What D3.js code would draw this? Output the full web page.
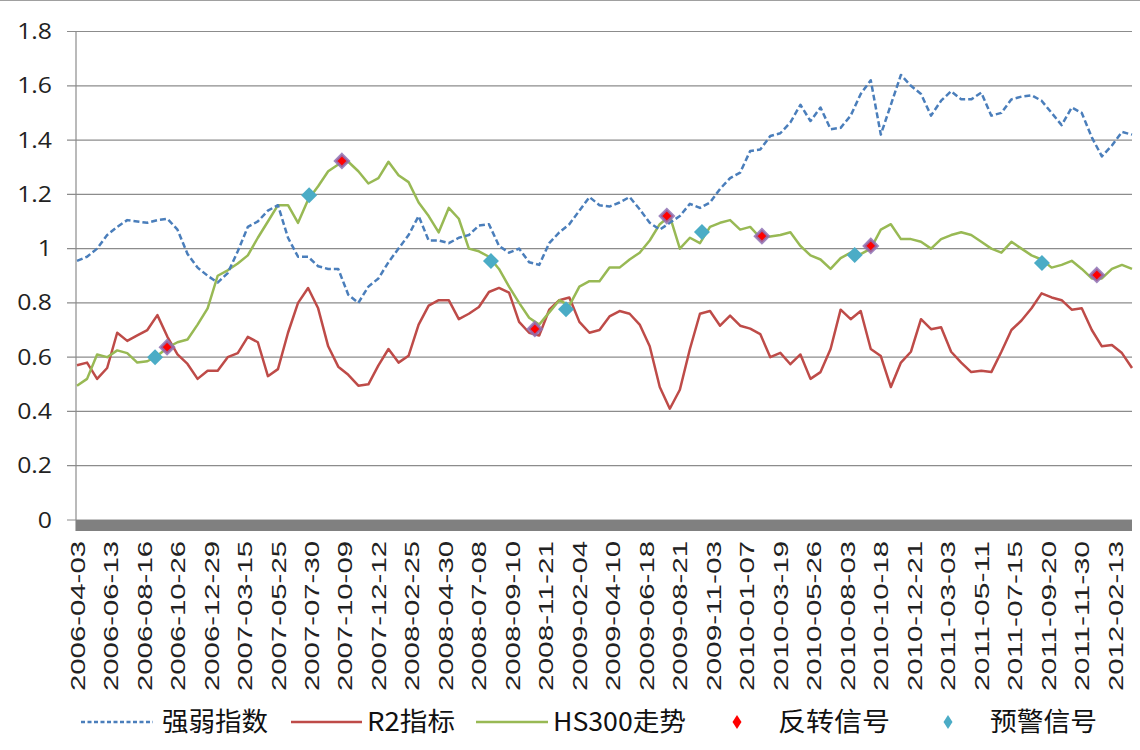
<!DOCTYPE html>
<html><head><meta charset="utf-8">
<script src="https://cdn.jsdelivr.net/npm/d3@7"></script>
<style>html,body{margin:0;padding:0;background:#fff;}svg{display:block;}</style>
</head><body>
<svg id="c" width="1140" height="750"></svg>
<script>
// ---------- data ----------
const dateLabels = ["2006-04-03","2006-06-13","2006-08-16","2006-10-26","2006-12-29","2007-03-15","2007-05-25","2007-07-30","2007-10-09","2007-12-12","2008-02-25","2008-04-30","2008-07-08","2008-09-10","2008-11-21","2009-02-04","2009-04-10","2009-06-18","2009-08-21","2009-11-03","2010-01-07","2010-03-19","2010-05-26","2010-08-03","2010-10-18","2010-12-21","2011-03-03","2011-05-11","2011-07-15","2011-09-20","2011-11-30","2012-02-13"];
const yTicks = [0,0.2,0.4,0.6,0.8,1,1.2,1.4,1.6,1.8];
const yTickLabels = ["0","0.2","0.4","0.6","0.8","1","1.2","1.4","1.6","1.8"];
// sample spacing, in units of one date-label interval
const sampleStep = 0.3;
const strengthIdx = [0.955,0.97,1.0,1.05,1.08,1.105,1.10,1.095,1.105,1.11,1.07,0.98,0.93,0.90,0.875,0.91,0.99,1.08,1.10,1.14,1.16,1.04,0.97,0.97,0.935,0.925,0.925,0.83,0.80,0.86,0.89,0.95,1.0,1.05,1.12,1.03,1.03,1.02,1.04,1.05,1.085,1.09,1.01,0.985,1.0,0.95,0.94,1.02,1.06,1.09,1.14,1.19,1.16,1.155,1.17,1.19,1.145,1.095,1.07,1.095,1.12,1.165,1.15,1.17,1.22,1.26,1.28,1.36,1.365,1.415,1.425,1.465,1.53,1.47,1.52,1.44,1.445,1.49,1.57,1.62,1.42,1.53,1.64,1.60,1.57,1.49,1.545,1.58,1.55,1.55,1.575,1.49,1.50,1.55,1.56,1.565,1.545,1.50,1.455,1.52,1.50,1.41,1.34,1.38,1.43,1.42];
const r2Idx = [0.57,0.58,0.52,0.56,0.69,0.66,0.68,0.70,0.755,0.675,0.61,0.575,0.52,0.55,0.55,0.60,0.615,0.675,0.655,0.53,0.556,0.69,0.80,0.855,0.78,0.64,0.565,0.535,0.495,0.50,0.57,0.63,0.58,0.605,0.72,0.79,0.81,0.81,0.74,0.76,0.785,0.84,0.855,0.838,0.73,0.69,0.68,0.775,0.81,0.82,0.73,0.69,0.70,0.75,0.77,0.76,0.72,0.64,0.49,0.41,0.48,0.63,0.76,0.77,0.716,0.753,0.716,0.705,0.685,0.60,0.616,0.574,0.61,0.52,0.545,0.63,0.775,0.74,0.77,0.63,0.604,0.49,0.58,0.62,0.74,0.703,0.71,0.62,0.58,0.545,0.55,0.545,0.62,0.70,0.735,0.78,0.835,0.82,0.81,0.775,0.78,0.70,0.64,0.645,0.615,0.56];
const hs300 = [0.495,0.52,0.61,0.60,0.625,0.615,0.58,0.585,0.605,0.635,0.655,0.665,0.72,0.78,0.90,0.92,0.945,0.975,1.04,1.10,1.16,1.16,1.095,1.18,1.23,1.285,1.31,1.32,1.285,1.24,1.26,1.32,1.27,1.245,1.17,1.12,1.06,1.15,1.11,1.0,0.99,0.97,0.925,0.86,0.80,0.745,0.72,0.765,0.81,0.79,0.86,0.88,0.88,0.93,0.93,0.96,0.985,1.03,1.09,1.12,1.0,1.04,1.02,1.08,1.095,1.105,1.07,1.08,1.04,1.045,1.05,1.06,1.01,0.975,0.96,0.925,0.965,0.985,0.98,1.0,1.07,1.09,1.035,1.035,1.025,1.0,1.035,1.05,1.06,1.05,1.025,1.0,0.985,1.025,1.0,0.975,0.96,0.93,0.94,0.955,0.925,0.89,0.89,0.925,0.94,0.925];
// signal positions (in date-label interval units) and values
const reversalPos = [2.69,7.91,13.67,17.61,20.45,23.7,30.45];
const reversalVal = [0.637,1.323,0.704,1.12,1.046,1.01,0.903];
const warningPos = [2.33,6.93,12.36,14.6,18.66,23.22,28.81];
const warningVal = [0.60,1.197,0.954,0.777,1.061,0.976,0.947];
const legendNames = ["强弱指数","R2指标","HS300走势","反转信号","预警信号"];

// ---------- drawing ----------
const svg = d3.select("#c");
const x = d3.scaleLinear().domain([0, 31.5]).range([77, 1132]);
const y = d3.scaleLinear().domain([0, 1.8]).range([520, 31.5]);
const C = {blue:"#4A7EBB", red:"#BE4B48", green:"#98B954", cyan:"#4BACC6", purple:"#8E72B4", grid:"#8c8c8c"};

svg.append("line").attr("x1",0).attr("x2",1140).attr("y1",0.5).attr("y2",0.5).attr("stroke","#a0a0a0");

// gridlines + ticks
svg.append("g").selectAll("line").data(yTicks).join("line")
  .attr("x1",67).attr("x2",1132).attr("y1",d=>y(d)).attr("y2",d=>y(d))
  .attr("stroke",C.grid).attr("stroke-width",1.2);
// y axis line
svg.append("line").attr("x1",76).attr("x2",76).attr("y1",y(1.8)).attr("y2",531)
  .attr("stroke",C.grid).attr("stroke-width",1.2);
// floor bar
svg.append("rect").attr("x",76).attr("y",y(0)).attr("width",1132-76).attr("height",11).attr("fill","#808080");

// y tick labels
svg.append("g").selectAll("text").data(yTicks).join("text")
  .attr("transform",d=>`translate(52,${y(d)}) scale(1.18,1)`)
  .attr("text-anchor","end").attr("dy","0.36em")
  .attr("font-family","'Open Sans', sans-serif").attr("font-size",21).attr("fill","#222")
  .text((d,i)=>yTickLabels[i]);

// x labels
svg.append("g").selectAll("text").data(dateLabels).join("text")
  .attr("transform",(d,i)=>`translate(${x(i)},541) rotate(-90)`)
  .attr("text-anchor","end").attr("dy","0.36em")
  .attr("font-family","'Liberation Sans', Arial, sans-serif").attr("font-size",21).attr("fill","#222")
  .attr("textLength",150).attr("lengthAdjust","spacingAndGlyphs")
  .text(d=>d);

const line = d3.line().x((d,i)=>x(i*sampleStep)).y(d=>y(d));
function series(data,color,dash){
  svg.append("path").datum(data).attr("d",line).attr("fill","none")
    .attr("stroke",color).attr("stroke-width",2.5).attr("stroke-linejoin","round")
    .attr("stroke-dasharray",dash||null);
}
series(r2Idx,C.red);
series(hs300,C.green);
series(strengthIdx,C.blue,"6,3");

const diamond = (cx,cy,hw,hh)=>`M${cx},${cy-hh}L${cx+hw},${cy}L${cx},${cy+hh}L${cx-hw},${cy}Z`;
svg.append("g").selectAll("path").data(warningPos).join("path")
  .attr("d",(d,i)=>diamond(x(d),y(warningVal[i]),8,8)).attr("fill",C.cyan);
svg.append("g").selectAll("path").data(reversalPos).join("path")
  .attr("d",(d,i)=>diamond(x(d),y(reversalVal[i]),6.5,6.5)).attr("fill","#ff0000")
  .attr("stroke",C.purple).attr("stroke-width",3).attr("stroke-opacity",0.85);

// legend
const ly = 722;
const lg = svg.append("g").attr("font-family","'Noto Sans CJK SC', sans-serif").attr("font-size",26).attr("fill","#111");
lg.append("line").attr("x1",81).attr("x2",153).attr("y1",ly).attr("y2",ly).attr("stroke",C.blue).attr("stroke-width",2.4).attr("stroke-dasharray","4,2.5");
lg.append("line").attr("x1",291).attr("x2",362).attr("y1",ly).attr("y2",ly).attr("stroke",C.red).attr("stroke-width",2.4);
lg.append("line").attr("x1",476).attr("x2",548).attr("y1",ly).attr("y2",ly).attr("stroke",C.green).attr("stroke-width",2.4);
lg.append("path").attr("d",diamond(737,ly,4.5,7)).attr("fill","#ff0000");
lg.append("path").attr("d",diamond(948,ly,4.5,7)).attr("fill",C.cyan);
const lx = [162,367,553,778,990], lw = [106,88,133,112,107];
lg.selectAll("text").data(legendNames).join("text")
  .attr("x",(d,i)=>lx[i]).attr("y",ly).attr("dy","0.36em")
  .attr("textLength",(d,i)=>lw[i]).attr("lengthAdjust","spacingAndGlyphs")
  .text(d=>d);
</script>
</body></html>
